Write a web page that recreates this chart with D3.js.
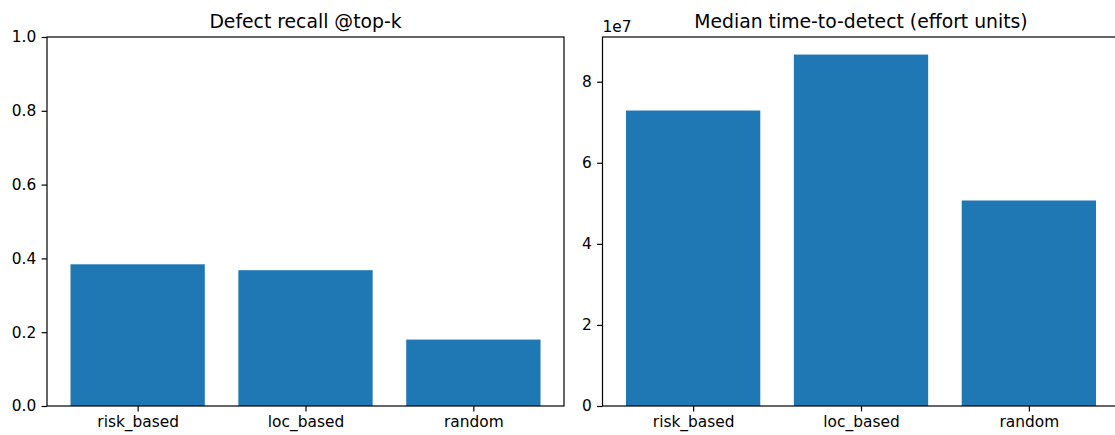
<!DOCTYPE html>
<html>
<head>
<meta charset="utf-8">
<script src="https://cdn.jsdelivr.net/npm/d3@7"></script>
<style>
  body { margin: 0; background: white; }
  svg { display: block; font-family: "DejaVu Sans", sans-serif; }
</style>
</head>
<body>
<svg width="1115" height="435"></svg>
<script>
// chart data
const strategies = ['risk_based', 'loc_based', 'random']
const recall = [0.384, 0.368, 0.180]
const medianTime = [7.29e7, 8.67e7, 5.07e7]

const titles = ['Defect recall @top-k', 'Median time-to-detect (effort units)']

const svg = d3.select('svg')
const barColor = '#1f77b4'
const plotTop = 37, plotBottom = 406
const panelWidth = 517
const tickFont = '15.4px'

// one matplotlib-style bar panel
function drawPanel(left, values, yMax, title, fmt, offsetText) {
  const g = svg.append('g')

  const x = d3.scaleLinear()
    .domain([-0.54, strategies.length - 1 + 0.54])
    .range([left, left + panelWidth])
  const y = d3.scaleLinear()
    .domain([0, yMax])
    .range([plotBottom, plotTop])

  // bars
  g.selectAll('rect.bar')
    .data(values)
    .enter()
    .append('rect')
      .classed('bar', true)
      .attr('x', (d, i) => x(i - 0.4))
      .attr('width', x(0.8) - x(0))
      .attr('y', d => y(d))
      .attr('height', d => y(0) - y(d))
      .style('fill', barColor)

  // axes
  const xAxis = d3.axisBottom(x)
    .tickValues(d3.range(strategies.length))
    .tickFormat(i => strategies[i])
    .tickSize(5.4).tickPadding(4.5)
  const yAxis = d3.axisLeft(y)
    .ticks(5)
    .tickFormat(fmt)
    .tickSize(5.4).tickPadding(5.4)

  const gx = g.append('g').attr('transform', `translate(0,${plotBottom})`).call(xAxis)
  const gy = g.append('g').attr('transform', `translate(${left},0)`).call(yAxis)

  ;[gx, gy].forEach(a => {
    a.select('.domain').remove()
    a.selectAll('.tick line').attr('stroke', 'black').attr('stroke-width', 1.2)
    a.selectAll('.tick text').attr('fill', 'black').style('font-size', tickFont)
      .style('font-family', '"DejaVu Sans", sans-serif')
  })

  // spines
  g.append('rect')
    .attr('x', left).attr('y', plotTop)
    .attr('width', panelWidth).attr('height', plotBottom - plotTop)
    .attr('fill', 'none').attr('stroke', 'black').attr('stroke-width', 1.2)

  // title
  g.append('text')
    .attr('x', left + panelWidth / 2)
    .attr('y', plotTop - 9)
    .attr('text-anchor', 'middle')
    .style('font-size', '18.8px')
    .text(title)

  if (offsetText) {
    g.append('text')
      .attr('x', left)
      .attr('y', plotTop - 5)
      .style('font-size', tickFont)
      .text(offsetText)
  }
}

drawPanel(47, recall, 1.0, titles[0], d3.format('.1f'), null)
drawPanel(602.5, medianTime, d3.max(medianTime) * 1.05, titles[1], d => d / 1e7, '1e7')
</script>
</body>
</html>
